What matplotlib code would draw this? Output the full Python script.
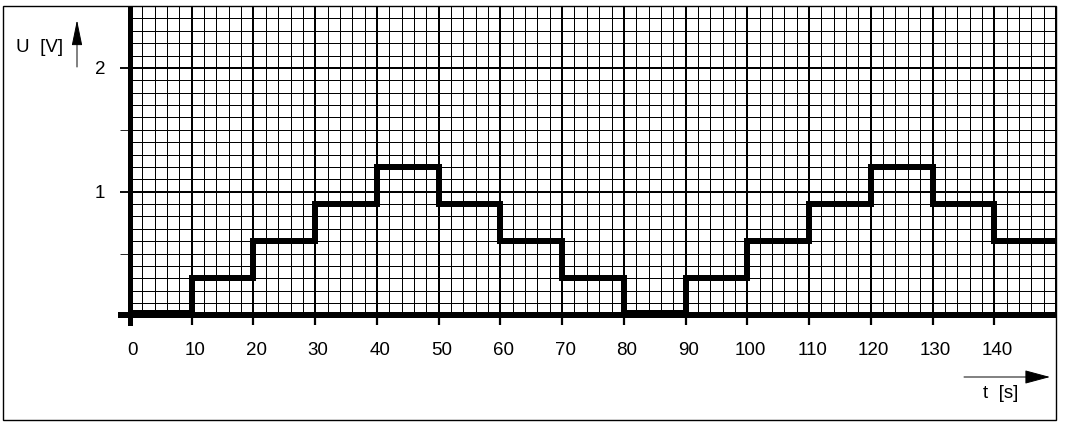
import matplotlib
matplotlib.use("Agg")
import matplotlib.pyplot as plt
import matplotlib.patches as patches
import numpy as np
from matplotlib.transforms import ScaledTranslation

plt.rcParams['font.family'] = ['Liberation Sans', 'DejaVu Sans']
plt.rcParams['lines.antialiased'] = False

# Step signal: time edges (s) and voltage level (V) held on each interval
t_edges = [0, 10, 20, 30, 40, 50, 60, 70, 80, 90, 100, 110, 120, 130, 140, 150]
u_levels = [0.02, 0.3, 0.6, 0.9, 1.2, 0.9, 0.6, 0.3, 0.02, 0.3, 0.6, 0.9, 1.2, 0.9, 0.6]

x_ticks = [0, 10, 20, 30, 40, 50, 60, 70, 80, 90, 100, 110, 120, 130, 140]
y_ticks = [0.5, 1, 1.5, 2]
y_tick_labels = ['', '1', '', '2']

W, H, DPI = 1066, 423, 100
fig = plt.figure(figsize=(W / DPI, H / DPI), dpi=DPI)

# axes placed in pixel terms of the reference
left, right, top, bottom = 130, 1056, 6, 315.4
ax = fig.add_axes([left / W, (H - bottom) / H, (right - left) / W, (bottom - top) / H])
ax.set_xlim(0, 150)
ax.set_ylim(0, 2.5)
for s in ax.spines.values():
    s.set_visible(False)

# graph paper grid
minor_lw, major_lw = 0.6, 1.35
for x in np.arange(0, 151, 2):
    major = x % 10 == 0
    ax.axvline(x, color='black', lw=major_lw if major else minor_lw, zorder=1)
for y in np.round(np.arange(0, 2.51, 0.1), 2):
    major = abs(y - round(y)) < 1e-6
    ax.axhline(y, color='black', lw=major_lw if major else minor_lw, zorder=1)

# signal
ax.step(t_edges, u_levels + [u_levels[-1]], where='post', color='black',
        lw=2.9, zorder=3, solid_capstyle='butt', solid_joinstyle='miter')

# axis lines (thick), slightly overshooting like the drawing
ax.plot([-2, 150], [0, 0], color='black', lw=3.0, clip_on=False, zorder=4,
        solid_capstyle='butt')
ax.plot([0, 0], [-0.075, 2.5], color='black', lw=2.2, clip_on=False, zorder=4,
        solid_capstyle='butt')

# ticks
ax.set_xticks(x_ticks)
ax.tick_params(axis='x', direction='out', length=7, width=1.6, pad=12,
               labelsize=13.5, color='black')
for lbl in ax.get_xticklabels():
    lbl.set_transform(lbl.get_transform() + ScaledTranslation(0.03, 0, fig.dpi_scale_trans))
ax.set_yticks(y_ticks, y_tick_labels)
ax.tick_params(axis='y', direction='out', length=7, width=0.6, pad=11,
               labelsize=13.5, color='black')
for val, tk in zip(y_ticks, ax.yaxis.get_major_ticks()):
    if val in (1, 2):
        tk.tick1line.set_markeredgewidth(1.35)

# axis titles with arrows
fig.text(40 / W, 1 - 47 / H, 'U  [V]', ha='center', va='center', fontsize=13.5)
ax.annotate('', xy=(77, H - 20), xytext=(77, H - 67), xycoords='figure pixels',
            textcoords='figure pixels',
            arrowprops=dict(arrowstyle='-|>,head_length=1.6,head_width=0.33',
                            mutation_scale=10, lw=0.7, color='black',
                            shrinkA=0, shrinkB=0))
fig.text(1001 / W, 30 / H, 't  [s]', ha='center', va='center', fontsize=13.5)
ax.annotate('', xy=(1050, H - 377), xytext=(964, H - 377), xycoords='figure pixels',
            textcoords='figure pixels',
            arrowprops=dict(arrowstyle='-|>,head_length=1.6,head_width=0.43',
                            mutation_scale=10, lw=0.7, color='black',
                            shrinkA=0, shrinkB=0))

# outer frame
frame = patches.Rectangle((3 / W, (H - 420) / H), (1056 - 3) / W, (420 - 6) / H,
                          transform=fig.transFigure, fill=False, lw=1.0,
                          edgecolor='black')
fig.add_artist(frame)

fig.savefig('out.png', dpi=DPI)
